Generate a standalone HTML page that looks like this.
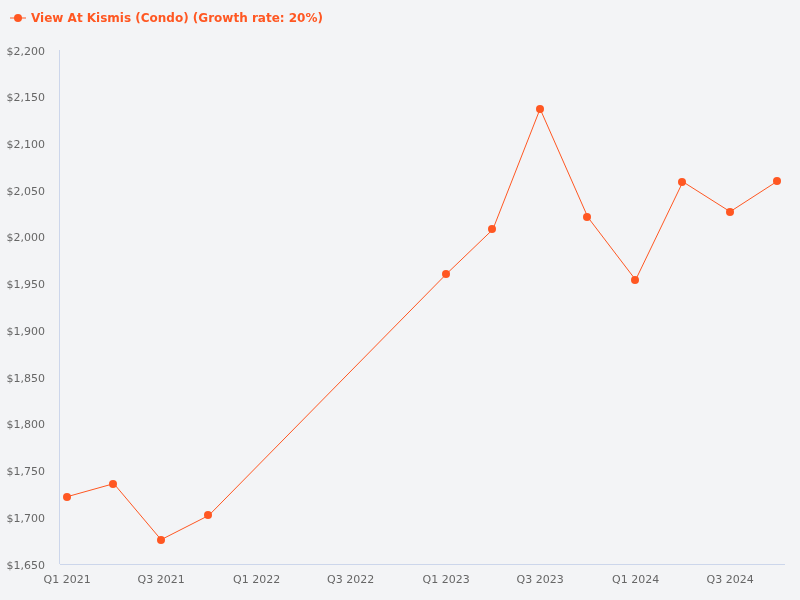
<!DOCTYPE html><html><head><meta charset="utf-8"><title>Chart</title><style>html,body{margin:0;padding:0;background:#f3f4f6;overflow:hidden;}svg{display:block;font-family:"DejaVu Sans","Liberation Sans",sans-serif;}</style></head><body>
<svg width="800" height="600" viewBox="0 0 800 600">
<rect width="800" height="600" fill="#f3f4f6"/>
<path d="M59.5 50V564M60 564.5H785" fill="none" stroke="#ccd6eb" stroke-width="1"/>
<text x="6.4" y="54.5" font-size="11" fill="#666">$2,200</text>
<text x="6.4" y="101.2" font-size="11" fill="#666">$2,150</text>
<text x="6.4" y="148.0" font-size="11" fill="#666">$2,100</text>
<text x="6.4" y="194.7" font-size="11" fill="#666">$2,050</text>
<text x="6.4" y="241.4" font-size="11" fill="#666">$2,000</text>
<text x="6.4" y="288.1" font-size="11" fill="#666">$1,950</text>
<text x="6.4" y="334.9" font-size="11" fill="#666">$1,900</text>
<text x="6.4" y="381.6" font-size="11" fill="#666">$1,850</text>
<text x="6.4" y="428.3" font-size="11" fill="#666">$1,800</text>
<text x="6.4" y="475.0" font-size="11" fill="#666">$1,750</text>
<text x="6.4" y="521.8" font-size="11" fill="#666">$1,700</text>
<text x="6.4" y="568.5" font-size="11" fill="#666">$1,650</text>
<text x="67.11" y="583" font-size="11" fill="#666" text-anchor="middle">Q1 2021</text>
<text x="161.08" y="583" font-size="11" fill="#666" text-anchor="middle">Q3 2021</text>
<text x="256.62" y="583" font-size="11" fill="#666" text-anchor="middle">Q1 2022</text>
<text x="350.59" y="583" font-size="11" fill="#666" text-anchor="middle">Q3 2022</text>
<text x="446.12" y="583" font-size="11" fill="#666" text-anchor="middle">Q1 2023</text>
<text x="540.10" y="583" font-size="11" fill="#666" text-anchor="middle">Q3 2023</text>
<text x="635.63" y="583" font-size="11" fill="#666" text-anchor="middle">Q1 2024</text>
<text x="730.13" y="583" font-size="11" fill="#666" text-anchor="middle">Q3 2024</text>
<path d="M67.11 496.71 L113.84 483.63 L161.08 539.7 L208.85 515.4 L446.12 274.29 L492.85 229.43 L540.10 108.88 L587.87 217.28 L635.63 279.9 L682.88 181.77 L730.13 211.68 L777.89 180.84" fill="none" stroke="#ff5722" stroke-width="1" stroke-linejoin="round" stroke-linecap="round"/>
<circle cx="67" cy="497" r="4" fill="#ff5722"/>
<circle cx="113" cy="484" r="4" fill="#ff5722"/>
<circle cx="161" cy="540" r="4" fill="#ff5722"/>
<circle cx="208" cy="515" r="4" fill="#ff5722"/>
<circle cx="446" cy="274" r="4" fill="#ff5722"/>
<circle cx="492" cy="229" r="4" fill="#ff5722"/>
<circle cx="540" cy="109" r="4" fill="#ff5722"/>
<circle cx="587" cy="217" r="4" fill="#ff5722"/>
<circle cx="635" cy="280" r="4" fill="#ff5722"/>
<circle cx="682" cy="182" r="4" fill="#ff5722"/>
<circle cx="730" cy="212" r="4" fill="#ff5722"/>
<circle cx="777" cy="181" r="4" fill="#ff5722"/>
<path d="M10 18H26" stroke="#ff5722" stroke-width="1"/><circle cx="18" cy="18" r="4" fill="#ff5722"/>
<text x="31" y="21.5" font-size="12" font-weight="bold" fill="#ff5722">View At Kismis (Condo) (Growth rate: 20%)</text>
</svg></body></html>
